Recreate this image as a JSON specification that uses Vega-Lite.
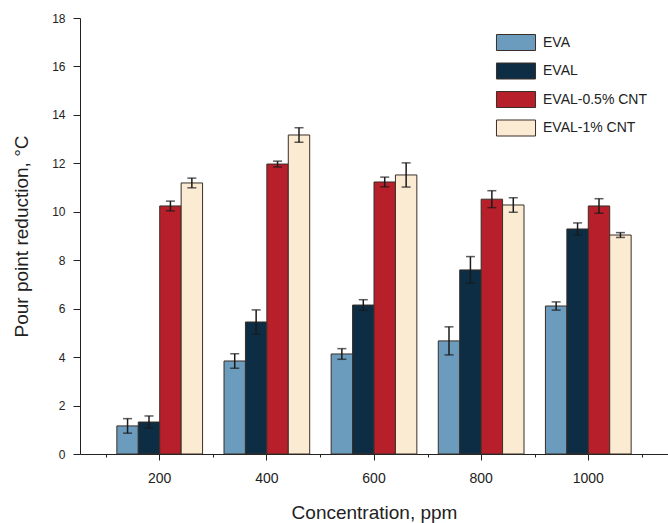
{
  "$schema": "https://vega.github.io/schema/vega-lite/v6.json",
  "width": 588,
  "height": 436,
  "autosize": {"type": "none"},
  "padding": {"left": 80, "top": 18, "right": 0, "bottom": 69},
  "background": "white",
  "config": {
    "view": {"stroke": null},
    "font": "Liberation Sans",
    "axis": {"labelFont": "Liberation Sans", "titleFont": "Liberation Sans", "labelColor": "#222", "titleColor": "#222", "domainColor": "#222", "tickColor": "#222", "titleFontWeight": "normal", "grid": false},
    "legend": {"labelFont": "Liberation Sans"}
  },
  "data": {
    "values": [
      {"conc": "200", "series": "EVA", "value": 1.16, "lo": 0.86, "hi": 1.46},
      {"conc": "200", "series": "EVAL", "value": 1.32, "lo": 1.07, "hi": 1.57},
      {"conc": "200", "series": "EVAL-0.5% CNT", "value": 10.24, "lo": 10.04, "hi": 10.44},
      {"conc": "200", "series": "EVAL-1% CNT", "value": 11.19, "lo": 10.99, "hi": 11.39},
      {"conc": "400", "series": "EVA", "value": 3.84, "lo": 3.54, "hi": 4.14},
      {"conc": "400", "series": "EVAL", "value": 5.45, "lo": 4.95, "hi": 5.95},
      {"conc": "400", "series": "EVAL-0.5% CNT", "value": 11.97, "lo": 11.85, "hi": 12.09},
      {"conc": "400", "series": "EVAL-1% CNT", "value": 13.17, "lo": 12.87, "hi": 13.47},
      {"conc": "600", "series": "EVA", "value": 4.13, "lo": 3.91, "hi": 4.35},
      {"conc": "600", "series": "EVAL", "value": 6.15, "lo": 5.93, "hi": 6.37},
      {"conc": "600", "series": "EVAL-0.5% CNT", "value": 11.23, "lo": 11.03, "hi": 11.43},
      {"conc": "600", "series": "EVAL-1% CNT", "value": 11.52, "lo": 11.02, "hi": 12.02},
      {"conc": "800", "series": "EVA", "value": 4.67, "lo": 4.09, "hi": 5.25},
      {"conc": "800", "series": "EVAL", "value": 7.6, "lo": 7.05, "hi": 8.15},
      {"conc": "800", "series": "EVAL-0.5% CNT", "value": 10.52, "lo": 10.17, "hi": 10.87},
      {"conc": "800", "series": "EVAL-1% CNT", "value": 10.28, "lo": 9.98, "hi": 10.58},
      {"conc": "1000", "series": "EVA", "value": 6.11, "lo": 5.94, "hi": 6.28},
      {"conc": "1000", "series": "EVAL", "value": 9.29, "lo": 9.04, "hi": 9.54},
      {"conc": "1000", "series": "EVAL-0.5% CNT", "value": 10.24, "lo": 9.94, "hi": 10.54},
      {"conc": "1000", "series": "EVAL-1% CNT", "value": 9.04, "lo": 8.94, "hi": 9.14}
    ]
  },
  "resolve": {"axis": {"x": "independent"}},
  "layer": [
    {
      "mark": {"type": "bar", "stroke": "#3a2e28", "strokeWidth": 1},
      "encoding": {
        "x": {"field": "conc", "type": "ordinal", "sort": ["200", "400", "600", "800", "1000"],
              "scale": {"paddingInner": 0, "paddingOuter": 0.244},
              "axis": {"title": "Concentration, ppm", "labelAngle": 0, "tickSize": 6, "labelPadding": 11, "labelFontSize": 14, "titleFontSize": 19, "titlePadding": 18}},
        "xOffset": {"field": "series", "type": "nominal", "sort": ["EVA", "EVAL", "EVAL-0.5% CNT", "EVAL-1% CNT"],
                    "scale": {"paddingInner": 0, "paddingOuter": 0.5}},
        "y": {"field": "value", "type": "quantitative", "scale": {"domain": [0, 18], "nice": false},
              "axis": {"title": "Pour point reduction, °C", "values": [0,1,2,3,4,5,6,7,8,9,10,11,12,13,14,15,16,17,18],
                       "labelExpr": "datum.value % 2 === 0 ? datum.label : ''",
                       "tickSize": {"condition": {"test": "datum.value % 2 !== 0", "value": 3}, "value": 7},
                       "labelPadding": 8, "labelFontSize": 12, "titleFontSize": 19, "titlePadding": 20}},
        "fill": {"field": "series", "type": "nominal", "sort": ["EVA", "EVAL", "EVAL-0.5% CNT", "EVAL-1% CNT"],
                 "scale": {"domain": ["EVA", "EVAL", "EVAL-0.5% CNT", "EVAL-1% CNT"], "range": ["#6b9bbd", "#0c2d44", "#b71f2b", "#fcebd3"]},
                 "legend": {"title": null, "orient": "none", "legendX": 427.5, "legendY": 16, "padding": 0,
                            "symbolType": "M-2.44,-1H2.44V1H-2.44Z", "symbolSize": 256, "symbolStrokeColor": "#3a2e28", "symbolStrokeWidth": 1,
                            "labelFontSize": 14, "labelOffset": 18.5, "labelColor": "#222", "rowPadding": 7.5}}
      }
    },
    {
      "mark": {"type": "rule", "color": "#1a1a1a", "strokeWidth": 1.5},
      "encoding": {
        "x": {"field": "conc", "type": "ordinal", "sort": ["200", "400", "600", "800", "1000"],
              "axis": {"title": null, "orient": "bottom", "labels": false, "domain": false, "tickBand": "extent", "tickSize": 3}},
        "xOffset": {"field": "series", "type": "nominal", "sort": ["EVA", "EVAL", "EVAL-0.5% CNT", "EVAL-1% CNT"]},
        "y": {"field": "lo", "type": "quantitative", "axis": {"title": "Pour point reduction, °C"}},
        "y2": {"field": "hi"}
      }
    },
    {
      "mark": {"type": "tick", "color": "#1a1a1a", "size": 9, "thickness": 1.5, "orient": "horizontal"},
      "encoding": {
        "x": {"field": "conc", "type": "ordinal", "sort": ["200", "400", "600", "800", "1000"], "axis": null},
        "xOffset": {"field": "series", "type": "nominal", "sort": ["EVA", "EVAL", "EVAL-0.5% CNT", "EVAL-1% CNT"]},
        "y": {"field": "lo", "type": "quantitative", "axis": {"title": "Pour point reduction, °C"}}
      }
    },
    {
      "mark": {"type": "tick", "color": "#1a1a1a", "size": 9, "thickness": 1.5, "orient": "horizontal"},
      "encoding": {
        "x": {"field": "conc", "type": "ordinal", "sort": ["200", "400", "600", "800", "1000"], "axis": null},
        "xOffset": {"field": "series", "type": "nominal", "sort": ["EVA", "EVAL", "EVAL-0.5% CNT", "EVAL-1% CNT"]},
        "y": {"field": "hi", "type": "quantitative", "axis": {"title": "Pour point reduction, °C"}}
      }
    }
  ]
}
